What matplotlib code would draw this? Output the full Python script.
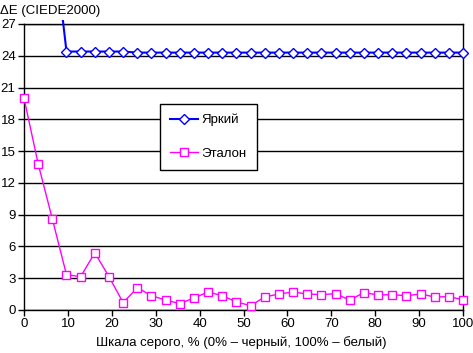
import matplotlib
matplotlib.use("Agg")
import matplotlib.pyplot as plt
from matplotlib.transforms import Bbox, TransformedBbox
import numpy as np

plt.rcParams['font.family'] = ['Liberation Sans', 'DejaVu Sans']

n_points = 32
x_vals = [i * 100 / 31 for i in range(n_points)]

bright = [42, 39, 36, 24.4, 24.4, 24.4, 24.4, 24.4, 24.3, 24.3, 24.3, 24.3, 24.3, 24.3, 24.3, 24.3,
          24.3, 24.3, 24.3, 24.3, 24.3, 24.3, 24.3, 24.3, 24.3, 24.3, 24.3, 24.3, 24.3, 24.3, 24.3, 24.3]
etalon = [20.0, 13.8, 8.6, 3.33, 3.15, 5.4, 3.15, 0.69, 2.1, 1.35, 0.94, 0.6, 1.13, 1.7, 1.35, 0.76,
          0.41, 1.23, 1.51, 1.7, 1.51, 1.45, 1.54, 0.94, 1.64, 1.42, 1.45, 1.35, 1.51, 1.23, 1.26, 0.97]

series_names = ["Яркий", "Эталон"]
y_ticks = [0, 3, 6, 9, 12, 15, 18, 21, 24, 27]
x_ticks = [0, 10, 20, 30, 40, 50, 60, 70, 80, 90, 100]
title = "ΔE (CIEDE2000)"
xlabel = "Шкала серого, % (0% – черный, 100% – белый)"

fig = plt.figure(figsize=(4.73, 3.53), dpi=100)
ax = fig.add_axes([24/473, 43/353, 439/473, 286/353])

ax.set_xlim(0, 100)
ax.set_ylim(0, 27)
ax.set_yticks(y_ticks)
ax.set_xticks(x_ticks)
ax.yaxis.grid(True, color='black', linewidth=1.0)
ax.set_axisbelow(True)
for s in ax.spines.values():
    s.set_color('black')
    s.set_linewidth(1.0)
ax.tick_params(axis='both', direction='out', length=4, width=1, labelsize=9.5, pad=2)

blue_line, = ax.plot(x_vals, bright, color='#0000FF', lw=1.5, marker='D', markersize=5.5,
                     markerfacecolor='white', markeredgecolor='#0000FF', markeredgewidth=1.0,
                     label=series_names[0], zorder=3)
blue_line.set_clip_box(TransformedBbox(Bbox([[-0.01, -0.01], [1.02, 1.015]]), ax.transAxes))

ax.plot(x_vals, etalon, color='#FF00FF', lw=1.0, marker='s', markersize=5.5,
        markerfacecolor='white', markeredgecolor='#FF00FF', markeredgewidth=1.0,
        label=series_names[1], zorder=3, clip_on=False)

leg = ax.legend(loc='upper left', bbox_to_anchor=(0.31, 0.72), frameon=True, fancybox=False,
                edgecolor='black', framealpha=1, fontsize=9.5, labelspacing=1.6,
                handlelength=2.1, borderpad=0.75, borderaxespad=0, handletextpad=0.3)
leg.get_frame().set_linewidth(1.0)
leg.set_zorder(5)

fig.text(0.0, 1 - 11/353, title, fontsize=9.5, ha='left', va='center')
fig.text(0.51, 1 - 343/353, xlabel, fontsize=9.5, ha='center', va='center')

fig.savefig("out.png", dpi=100)
